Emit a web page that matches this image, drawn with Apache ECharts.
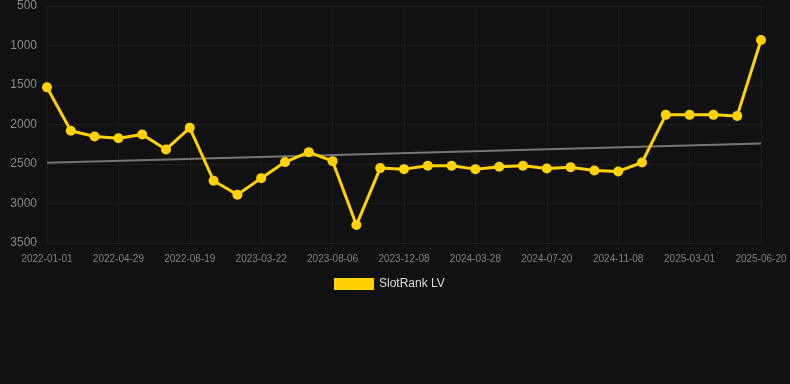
<!DOCTYPE html>
<html><head><meta charset="utf-8">
<script src="https://cdn.jsdelivr.net/npm/echarts@6/dist/echarts.min.js"></script>
<style>html,body{margin:0;padding:0;background:#111111;}#c{width:790px;height:384px;}</style>
</head><body><div id="c"></div>
<script>
var categories = ['2022-01-01','2022-02-08','2022-03-20','2022-04-29','2022-06-05','2022-07-12','2022-08-19','2022-10-29','2023-01-08','2023-03-22','2023-05-01','2023-06-18','2023-08-06','2023-09-22','2023-10-30','2023-12-08','2024-01-18','2024-02-28','2024-03-28','2024-05-08','2024-06-14','2024-07-20','2024-08-28','2024-10-02','2024-11-08','2024-12-20','2025-01-25','2025-03-01','2025-04-05','2025-05-14','2025-06-20'];
var rankValues = [1530,2080,2152,2173,2127,2316,2042,2712,2889,2679,2476,2350,2464,3273,2552,2565,2523,2523,2565,2535,2523,2556,2540,2582,2594,2481,1878,1878,1878,1891,930];
var trendStart = 2485;
var trendEnd = 2240;
var yTicks = [500,1000,1500,2000,2500,3000,3500];

var chart = echarts.init(document.getElementById('c'));
chart.setOption({
  backgroundColor:'#111111',
  animation:false,
  grid:{left:47,right:29,top:6,bottom:141},
  legend:{
    top:273, left:329,
    data:[{name:'SlotRank LV', icon:'rect'}],
    itemWidth:40, itemHeight:12, itemGap:10,
    textStyle:{color:'#dddddd', fontSize:12, fontFamily:'Liberation Sans, Arial, sans-serif'}
  },
  xAxis:{
    type:'category', data:categories, boundaryGap:false,
    axisLine:{show:false}, axisTick:{show:false},
    axisLabel:{interval:2, color:'#808080', fontSize:10, margin:11, fontFamily:'Liberation Sans, Arial, sans-serif'},
    splitLine:{show:true, interval:2, lineStyle:{color:'#1c1c1c', width:1}}
  },
  yAxis:{
    type:'value', inverse:true, min:yTicks[0], max:yTicks[yTicks.length-1], interval:500,
    axisLine:{show:false}, axisTick:{show:false},
    axisLabel:{color:'#8a8a8a', fontSize:12, margin:10, fontFamily:'Liberation Sans, Arial, sans-serif',
      formatter:function(v){return String(v);}},
    splitLine:{show:true, lineStyle:{color:'#202020', width:1}}
  },
  series:[
    {
      name:'Trend', type:'line', silent:true,
      data:[[categories[0],trendStart],[categories[categories.length-1],trendEnd]],
      symbol:'none', lineStyle:{color:'#777777', width:2}, z:1
    },
    {
      name:'SlotRank LV', type:'line', data:rankValues,
      symbol:'circle', symbolSize:10,
      itemStyle:{color:'#FFD200'},
      lineStyle:{color:'#FFD200', width:3}, z:2
    }
  ]
});
</script></body></html>
